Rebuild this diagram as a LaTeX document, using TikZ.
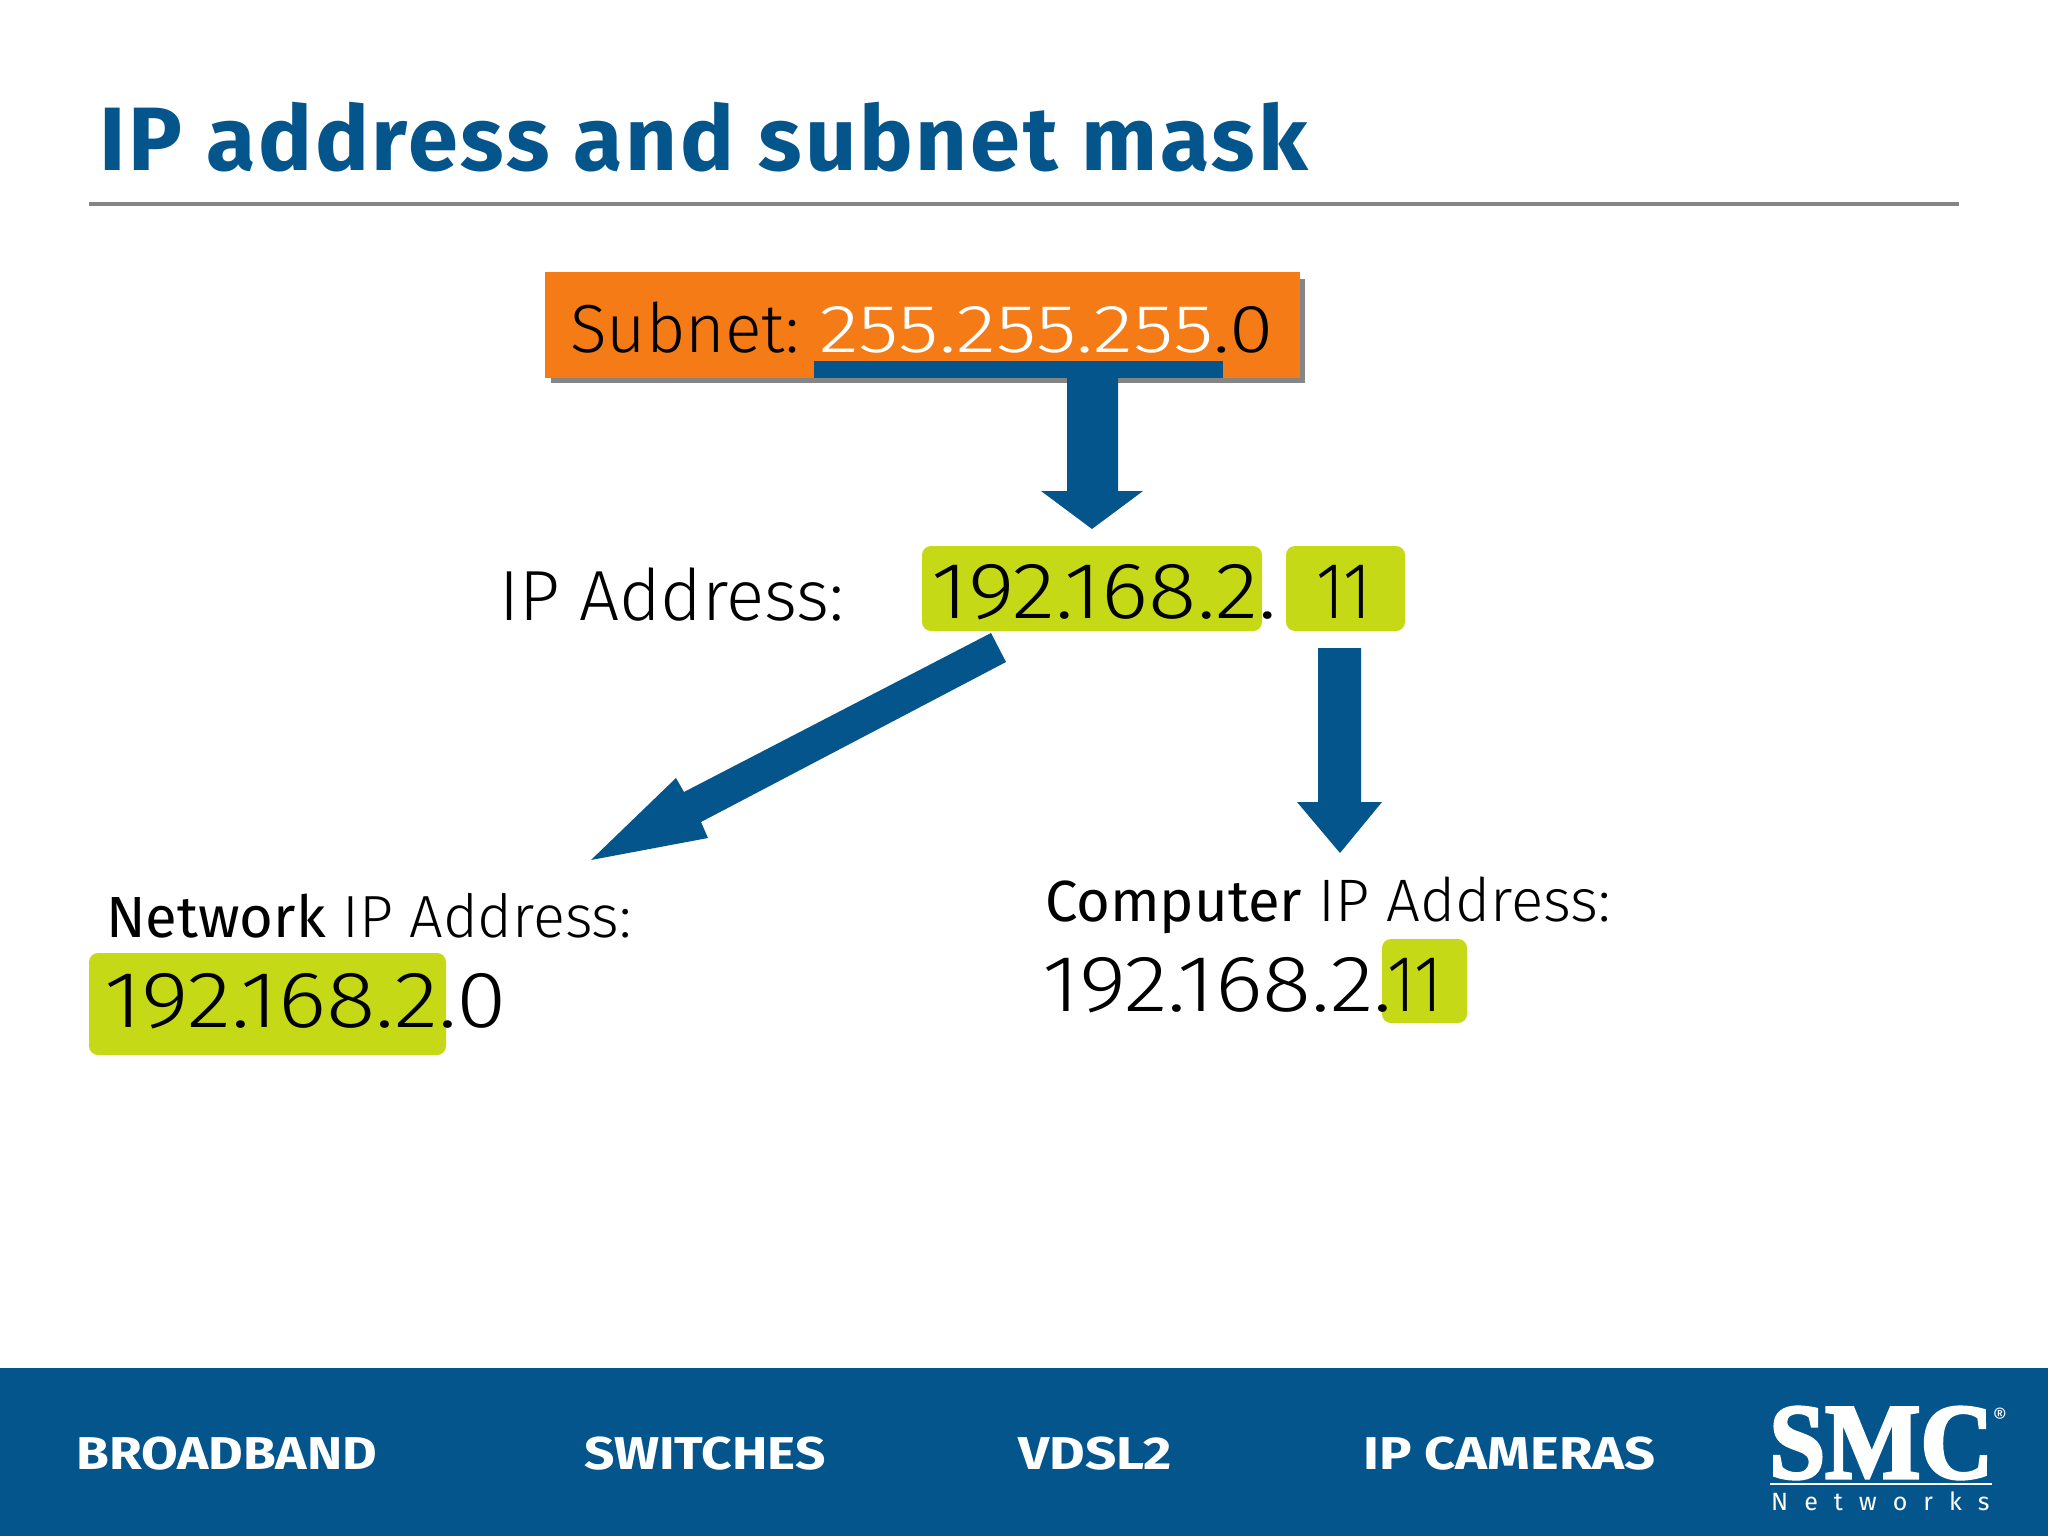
\documentclass[tikz,border=0pt]{standalone}
\usepackage{fontspec}
\setmainfont{Fira Sans}
\newfontfamily\lightf{Fira Sans Light}
\newfontfamily\regf{Fira Sans}
\newfontfamily\logof[FakeBold=3]{Liberation Serif Bold}
\usepackage{graphicx}
\definecolor{smcblue}{HTML}{03558B}
\definecolor{smcorange}{HTML}{F47B16}
\definecolor{smcgreen}{HTML}{C6D916}
\definecolor{rulegray}{HTML}{858585}
\newcommand{\sz}[1]{\fontsize{#1}{#1}\selectfont}
\newcommand{\wdx}[2]{\scalebox{#1}[1]{#2}}
\tikzset{
  lbl/.style={anchor=base west,inner sep=0pt,outer sep=0pt,text=black},
  hilite/.style={fill=smcgreen,rounded corners=9pt},
  blockarrow/.style={fill=smcblue,draw=none},
  foot/.style={anchor=base west,inner sep=0pt,text=white,font=\bfseries\sz{46}},
}
\begin{document}
\begin{tikzpicture}[x=1pt,y=-1pt]
\useasboundingbox (0,0) rectangle (2048,1536);
\fill[white] (0,0) rectangle (2048,1536);
% title
\node[lbl,text=smcblue,font=\bfseries\sz{90}] (title) at (99,170) {\addfontfeature{LetterSpace=3.1}IP address and subnet mask};
\draw[rulegray,line width=4pt] (89,204) -- (1959,204);
% subnet box
\fill[rulegray] (551,279) rectangle (1305,383);
\fill[smcorange] (545,272) rectangle (1300,378);
\fill[smcblue] (814,361) rectangle (1223,378);
\node[lbl,font=\lightf\sz{68}] (subnet) at (570,352) {Subnet:\kern20pt\textcolor{white}{\wdx{1.22}{255.255.255}}\wdx{1.18}{.0}};
% green highlights
\fill[hilite] (922,546) rectangle (1262,631);
\fill[hilite] (1286,546) rectangle (1405,631);
\fill[hilite] (89,953) rectangle (446,1055);
\fill[hilite] (1382,939) rectangle (1467,1023);
% IP line
\node[lbl,font=\lightf\sz{71}] (iplabel) at (499,620) {IP Address:};
\node[lbl,font=\lightf\sz{80}] (ipnet) at (931,618) {\wdx{1.12}{192.168.2.}};
\node[lbl,font=\lightf\sz{80}] (iphost) at (1316,618) {\wdx{.85}{11}};
% results
\node[lbl,font=\lightf\sz{59.5}] (netlabel) at (106,937) {{\regf\sz{58}Network} IP Address:};
\node[lbl,font=\lightf\sz{80}] (netip) at (104,1027) {\wdx{1.145}{192.168.2.0}};
\node[lbl,font=\lightf\sz{60}] (complabel) at (1045,921) {{\regf\sz{58}Computer} IP Address:};
\node[lbl,font=\lightf\sz{80}] (compip) at (1042,1011) {\wdx{1.135}{192.168.2.}\kern-5pt\wdx{.85}{11}};
% arrows
\coordinate (tipA) at (1092,529);
\coordinate (tipB) at (591,860);
\coordinate (tipC) at (1340,853);
\fill[blockarrow] (tipA) -- ++(-51,-38) -- ++(26,0) -- ++(0,-113) -- ++(51,0) -- ++(0,113) -- ++(25,0) -- cycle;
\fill[blockarrow] (tipB) -- (676,778) -- (684,792) -- (991,633) -- (1006,662) -- (701,822) -- (708,838) -- cycle;
\fill[blockarrow] (tipC) -- ++(-43,-51) -- ++(21,0) -- ++(0,-154) -- ++(43,0) -- ++(0,154) -- ++(21,0) -- cycle;
% footer
\fill[smcblue] (0,1368) rectangle (2048,1536);
\node[foot] (f1) at (76,1469) {\wdx{1.156}{BROADBAND}};
\node[foot] (f2) at (584,1469) {\wdx{1.157}{SWITCHES}};
\node[foot] (f3) at (1018,1469) {\wdx{1.19}{VDSL2}};
\node[foot] (f4) at (1363,1469) {\wdx{1.18}{IP CAMERAS}};
% logo
\node[anchor=base west,inner sep=0pt,text=white,font=\logof\sz{104}] (smc) at (1769,1478) {\resizebox{224pt}{71pt}{SMC}};
\node[anchor=center,inner sep=0pt,text=white,font=\sz{22}] (reg) at (2000,1416) {®};
\draw[white,line width=1.5pt] (1770,1484) -- (1992,1484);
\node[anchor=base west,inner sep=0pt,text=white,font=\sz{25}] (nw) at (1771,1510) {N\hspace{16pt}e\hspace{16pt}t\hspace{16pt}w\hspace{16pt}o\hspace{16pt}r\hspace{16pt}k\hspace{16pt}s};
\end{tikzpicture}
\end{document}
